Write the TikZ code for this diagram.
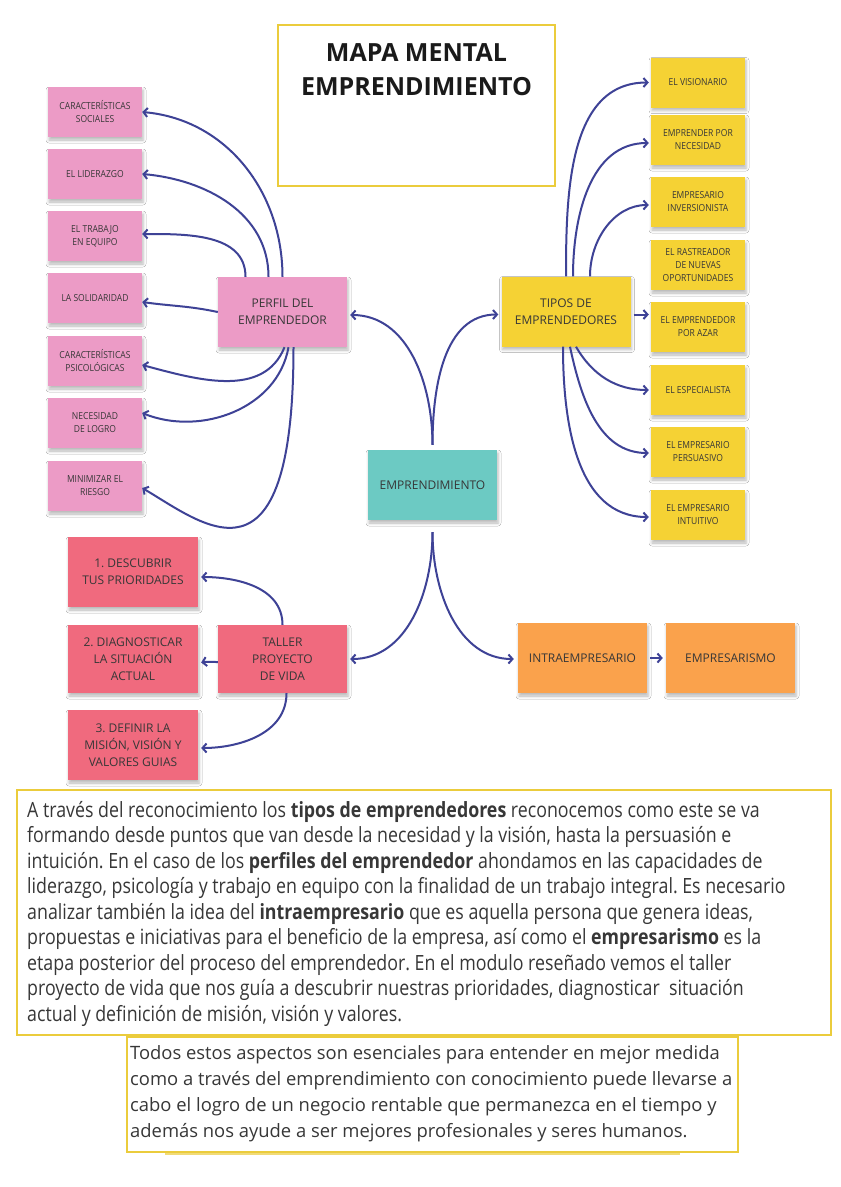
\documentclass[tikz,border=0pt]{standalone}
\usepackage{fontspec}
\setmainfont{Open Sans}
\newfontfamily\condf[FakeStretch=0.88]{Open Sans}
\newfontfamily\parf[FakeStretch=0.847]{Open Sans}
\usetikzlibrary{arrows.meta,shadows.blur}
\definecolor{pinkn}{RGB}{236,155,198}
\definecolor{yelln}{RGB}{245,210,52}
\definecolor{tealn}{RGB}{108,202,195}
\definecolor{redn}{RGB}{240,106,126}
\definecolor{orangen}{RGB}{250,162,76}
\definecolor{arrowc}{RGB}{62,66,150}
\definecolor{boxc}{RGB}{235,204,60}
\definecolor{txt}{RGB}{55,55,55}
\definecolor{titc}{RGB}{26,26,26}
\frenchspacing
\begin{document}
\begin{tikzpicture}[x=1pt,y=-1pt,
  note/.style={rectangle, inner sep=2pt, align=center, text=txt,
    blur shadow={shadow xshift=1pt, shadow yshift=-3pt, shadow blur radius=3pt, shadow opacity=28}},
  small/.style={note, minimum width=94pt, minimum height=50pt, font=\condf\fontsize{9.7}{13}\selectfont},
  big/.style={note, minimum width=129pt, minimum height=70pt, font=\fontsize{12}{17}\selectfont},
  redbox/.style={note, fill=redn, minimum width=130pt, minimum height=70pt, font=\fontsize{12}{17}\selectfont},
  conn/.style={draw=arrowc, line width=2pt, -{Straight Barb[length=4pt,width=9pt]}},
  textbox/.style={draw=boxc, line width=1.5pt},
]
\useasboundingbox (0,0) rectangle (841,1187);
\fill[white] (0,0) rectangle (841,1187);

% title
\node[textbox, minimum width=277pt, minimum height=161pt] (tbox) at (416.5,105.5) {};
\node[font=\bfseries\fontsize{25}{34.5}\selectfont, text=titc, align=center] (title) at (416.5,69.5) {MAPA MENTAL\\EMPRENDIMIENTO};

% pink column
\node[small, fill=pinkn] (soc) at (95,112) {CARACTERÍSTICAS\\SOCIALES};
\node[small, fill=pinkn] (lid) at (95,174) {EL LIDERAZGO};
\node[small, fill=pinkn] (tra) at (95,236) {EL TRABAJO\\EN EQUIPO};
\node[small, fill=pinkn] (sol) at (95,298) {LA SOLIDARIDAD};
\node[small, fill=pinkn] (psi) at (95,361) {CARACTERÍSTICAS\\PSICOLÓGICAS};
\node[small, fill=pinkn] (nec) at (95,423) {NECESIDAD\\DE LOGRO};
\node[small, fill=pinkn] (mini) at (95,486) {MINIMIZAR EL\\RIESGO};

\node[big, fill=pinkn] (perfil) at (282.5,312) {PERFIL DEL\\EMPRENDEDOR};
\node[big, fill=yelln] (tipos) at (566,311.5) {TIPOS DE\\EMPRENDEDORES};

% yellow column
\node[small, fill=yelln] (vis) at (698,82.5) {EL VISIONARIO};
\node[small, fill=yelln] (necy) at (698,140) {EMPRENDER POR\\NECESIDAD};
\node[small, fill=yelln] (inv) at (698,202) {EMPRESARIO\\INVERSIONISTA};
\node[small, fill=yelln] (ras) at (698,265) {EL RASTREADOR\\DE NUEVAS\\OPORTUNIDADES};
\node[small, fill=yelln] (aza) at (698,327) {EL EMPRENDEDOR\\POR AZAR};
\node[small, fill=yelln] (esp) at (698,390) {EL ESPECIALISTA};
\node[small, fill=yelln] (per) at (698,452) {EL EMPRESARIO\\PERSUASIVO};
\node[small, fill=yelln] (intu) at (698,515) {EL EMPRESARIO\\INTUITIVO};

% center
\node[big, fill=tealn] (emp) at (432.5,485) {EMPRENDIMIENTO};

% taller
\node[big, fill=redn, minimum height=68pt] (taller) at (282.5,659) {TALLER\\PROYECTO\\DE VIDA};
\node[redbox] (d1) at (133,572) {1. DESCUBRIR\\TUS PRIORIDADES};
\node[redbox, minimum height=68pt] (d2) at (133,659) {2. DIAGNOSTICAR\\LA SITUACIÓN\\ACTUAL};
\node[redbox] (d3) at (133,745) {3. DEFINIR LA\\MISIÓN, VISIÓN Y\\VALORES GUIAS};

% orange
\node[big, fill=orangen] (intra) at (582.5,658) {INTRAEMPRESARIO};
\node[big, fill=orangen] (empr) at (730.5,658) {EMPRESARISMO};

% connectors: perfil
\draw[conn] (perfil.north) to[out=90,in=-5] (soc.east);
\draw[conn] ([xshift=-14pt]perfil.north) to[out=90,in=-5] (lid.east);
\draw[conn] ([xshift=-37pt]perfil.north) to[out=90,in=0] ([yshift=2pt]tra.east);
\draw[conn] (perfil.west) to[out=168,in=-8] ([yshift=-4pt]sol.east);
\draw[conn] ([xshift=2pt]perfil.south) to[out=-112,in=-15] ([yshift=-4pt]psi.east);
\draw[conn] ([xshift=6pt]perfil.south) to[out=-100,in=-22] ([yshift=10pt]nec.east);
\draw[conn] ([xshift=11pt]perfil.south) .. controls +(0,255) and +(60,35) .. ([yshift=-2pt]mini.east);

% connectors: tipos
\draw[conn, shorten >=2pt] (tipos.north) to[out=90,in=180] (vis.west);
\draw[conn, shorten >=2pt] ([xshift=7pt]tipos.north) to[out=90,in=180] ([yshift=-3pt]necy.west);
\draw[conn, shorten >=2pt] ([xshift=24pt]tipos.north) to[out=90,in=180] ([yshift=-3pt]inv.west);
\draw[conn, shorten >=2pt, shorten <=3pt] ([yshift=-3pt]tipos.east) -- ([yshift=-3pt]tipos.east -| aza.west);
\draw[conn, shorten >=2pt] ([xshift=10pt]tipos.south) to[out=-60,in=180] (esp.west);
\draw[conn, shorten >=2pt] ([xshift=4pt]tipos.south) to[out=-78,in=180] ([yshift=-1pt]per.west);
\draw[conn, shorten >=2pt] ([xshift=-3pt]tipos.south) to[out=-90,in=180] ([yshift=-2pt]intu.west);

% connectors: emprendimiento
\coordinate (et) at ([yshift=5pt]emp.north);
\coordinate (eb) at ([yshift=-12pt]emp.south);
\draw[conn, shorten >=3pt] (et) to[out=90,in=0] ([yshift=-3pt]perfil.east);
\draw[conn, shorten >=3pt] (et) to[out=90,in=180] ([yshift=-3pt]tipos.west);
\draw[conn, shorten >=3pt] (eb) to[out=-90,in=0] (taller.east);
\draw[conn, shorten >=4pt] (eb) to[out=-90,in=180] ([yshift=-1pt]intra.west);
\draw[conn, shorten <=3pt, shorten >=3pt] (intra.east) -- (empr.west);

% connectors: taller
\draw[conn, shorten >=3pt] (taller.north) to[out=90,in=0] ([yshift=-5pt]d1.east);
\draw[conn, shorten >=3pt] ([yshift=-3pt]taller.west) to[out=180,in=10] ([yshift=-4pt]d2.east);
\draw[conn, shorten >=3pt] ([xshift=4pt]taller.south) to[out=-90,in=0] ([yshift=-3pt]d3.east);

% text boxes
\node[textbox, minimum width=814pt, minimum height=245pt, anchor=north west, inner sep=0pt] (p1box) at (16,789) {};
\node[anchor=north west, inner sep=0pt, align=left, text=txt, font=\parf\fontsize{21}{25.5}\selectfont] (p1) at (27,801) {%
A través del reconocimiento los \textbf{tipos de emprendedores} reconocemos como este se va\\
formando desde puntos que van desde la necesidad y la visión, hasta la persuasión e\\
intuición. En el caso de los \textbf{perfiles del emprendedor} ahondamos en las capacidades de\\
liderazgo, psicología y trabajo en equipo con la finalidad de un trabajo integral. Es necesario\\
analizar también la idea del \textbf{intraempresario} que es aquella persona que genera ideas,\\
propuestas e iniciativas para el beneficio de la empresa, así como el \textbf{empresarismo} es la\\
etapa posterior del proceso del emprendedor. En el modulo reseñado vemos el taller\\
proyecto de vida que nos guía a descubrir nuestras prioridades, diagnosticar\ \ situación\\
actual y definición de misión, visión y valores.};

\node[textbox, minimum width=611pt, minimum height=115pt, anchor=north west, inner sep=0pt] (p2box) at (126,1036) {};
\node[anchor=north west, inner sep=0pt, align=left, text=txt, font=\fontsize{18.4}{26}\selectfont] (p2) at (130,1045) {%
Todos estos aspectos son esenciales para entender en mejor medida\\
como a través del emprendimiento con conocimiento puede llevarse a\\
cabo el logro de un negocio rentable que permanezca en el tiempo y\\
además nos ayude a ser mejores profesionales y seres humanos.};
\draw[boxc!70, line width=1.5pt] (165,1154) -- (680,1154);
\end{tikzpicture}
\end{document}
